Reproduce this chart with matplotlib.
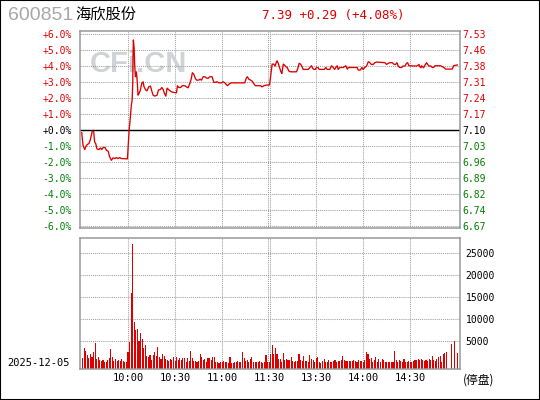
import matplotlib
matplotlib.use("Agg")
import matplotlib.pyplot as plt
import numpy as np
from matplotlib.patches import Rectangle

# ---- values ----
stock_code = "600851"
stock_name = "海欣股份"
quote_text = "7.39 +0.29 (+4.08%)"
trade_date = "2025-12-05"
status_text = "(停盘)"

# intraday line: minutes since 9:30 (lunch break removed) and % change vs previous close
line_minutes = [
    0.45, 1.3, 2.4, 3.0, 3.9, 5.1, 6.0, 6.8, 7.2, 8.1, 8.7, 9.4, 10.2, 11.3, 12.4, 13.2,
    14.1, 15.3, 16.2, 17.3, 18.3, 19.4, 20.4, 21.7, 22.6, 23.6, 24.7, 25.8, 28.9, 29.6,
    30.2, 30.7, 31.1, 31.5, 32.1, 32.6, 33.0, 33.2, 33.4, 33.9, 34.3, 34.7, 35.3, 35.8,
    36.4, 37.0, 37.9, 38.7, 39.6, 40.2, 41.3, 42.1, 43.2, 44.3, 45.1, 46.0, 47.0, 48.5,
    49.4, 50.7, 51.5, 52.4, 53.2, 54.1, 54.9, 56.2, 57.7, 59.2,
    60.9, 61.5, 62.3, 63.6, 64.5, 66.2, 67.2, 68.3, 69.4, 70.4, 71.0, 71.9, 72.9, 73.7,
    75.1, 75.9, 76.8, 77.9, 78.9, 80.0, 81.1, 82.1, 83.6, 84.7, 85.7, 86.8, 87.9, 89.6,
    90.6, 91.7, 92.7, 93.4, 94.9, 95.9, 104.4, 105.5, 106.1, 107.0, 108.2, 109.1, 110.1,
    111.2, 114.6, 115.4, 116.7, 118.2, 120.0,
    120.4, 121.3, 121.9, 122.9, 123.8, 124.7, 125.1, 126.0, 126.8, 127.5, 128.1, 128.5,
    129.0, 129.8, 130.6, 131.5, 132.5, 133.6, 137.4, 138.3, 139.1, 140.0, 140.8, 141.7,
    144.9, 146.0, 147.0, 147.7, 148.5, 149.4, 150.2, 151.1, 151.9, 155.1, 156.2, 157.0,
    158.7, 159.8, 160.8, 161.7, 162.5, 163.4, 164.0, 165.1, 167.2, 168.9, 169.8, 170.6,
    176.1, 176.8, 178.2, 179.1, 179.9, 181.0,
    182.1, 183.2, 184.2, 185.2, 186.3, 187.4, 188.5, 193.8, 194.9, 195.9, 197.0, 198.5,
    199.8, 200.6, 201.5, 202.3, 203.2, 204.5, 205.3, 206.6, 207.6, 208.3, 209.1, 214.2,
    215.5, 216.1, 216.8, 217.2, 217.9, 218.5, 219.4, 220.4, 221.1, 221.9, 223.2, 224.0,
    224.9, 225.7, 229.1, 230.4, 231.7, 232.5, 236.8, 237.6, 240.0,
]
line_pct = [
    -0.15, -0.94, -1.21, -1.04, -0.90, -0.83, -0.58, -0.21, -0.04, -0.10, -0.73, -0.84,
    -1.17, -1.21, -1.11, -1.21, -1.08, -1.08, -1.25, -1.31, -1.67, -1.88, -1.73, -1.77,
    -1.71, -1.77, -1.71, -1.77, -1.79, -1.79, -0.84, 0.00, 0.42, 0.84, 1.57, 1.88, 2.92,
    4.80, 5.64, 5.10, 3.97, 3.34, 3.65, 3.13, 2.19, 2.30, 2.51, 2.92, 3.03, 2.71, 2.51,
    2.46, 2.71, 2.76, 2.46, 2.19, 2.13, 2.19, 2.51, 2.55, 2.67, 2.55, 2.30, 2.13, 2.63,
    2.51, 2.40, 2.36,
    2.34, 2.78, 2.67, 2.67, 2.78, 2.78, 2.71, 2.65, 2.92, 3.24, 3.59, 3.51, 3.24, 3.13,
    3.13, 3.19, 3.13, 3.34, 3.34, 3.26, 3.24, 3.34, 3.34, 2.99, 2.99, 3.03, 2.96, 2.96,
    3.03, 2.96, 2.86, 2.78, 2.92, 2.96, 2.96, 3.28, 3.34, 3.19, 3.13, 3.07, 2.92,
    2.78, 2.78, 2.71, 2.78, 2.82, 2.82,
    2.96, 3.65, 4.13, 4.13, 4.01, 4.28, 4.34, 4.11, 3.86, 3.65, 3.55, 3.80,
    4.13, 4.07, 3.97, 3.92, 3.70, 3.65, 3.65, 3.86, 4.18, 4.13, 4.01, 3.80,
    3.80, 3.92, 4.03, 3.88, 3.80, 3.80, 3.92, 3.92, 3.80, 3.80, 3.92, 3.80,
    3.80, 4.03, 3.92, 3.80, 3.92, 4.03, 3.80, 3.92, 3.92, 4.03, 3.82, 3.92,
    3.92, 3.76, 3.76, 3.92, 3.80, 3.92,
    4.01, 4.28, 4.22, 4.11, 4.11, 4.22, 4.26, 4.22, 4.11, 4.18, 4.22, 4.22,
    4.11, 4.11, 4.22, 4.01, 3.92, 3.92, 4.01, 4.01, 4.18, 4.22, 4.03, 4.01,
    4.11, 3.97, 3.90, 4.03, 3.97, 3.90, 4.07, 4.22, 4.11, 4.01, 4.01, 3.92,
    3.92, 4.03, 4.03, 3.97, 3.90, 3.82, 3.82, 4.03, 4.08,
]

# volume per minute (lots), morning then afternoon session
volume_am = [
    1210, 3490, 2800, 1900, 1210, 2120, 1440, 2580, 4620, 990, 1440, 760, 530, 760, 300,
    300, 760, 1210, 3260, 1440, 530, 990, 530, 760, 530, 990, 530, 300, 300, 2580,
    4850, 15980, 27100, 9400, 7580, 7730, 5080, 6820, 5530, 3490, 4170, 1670, 1440, 1900,
    760, 1900, 2580, 1670, 3710, 1440, 990, 2120, 1670, 990, 760, 530, 990, 760, 1440, 530,
    1440, 760, 1210, 760, 1210, 1210, 300, 1210, 530, 2800, 1210, 530, 530, 300, 530,
    2120, 1440, 760, 990, 300, 1210, 1210, 760, 1440, 1440, 300, 300, 80, 300, 300,
    530, 300, 300, 80, 1440, 80, 80, 300, 300, 530, 300, 300, 2580, 1210, 530,
    760, 300, 990, 1440, 300, 300, 300, 300, 530, 300, 80, 300, 1900, 300, 300,
]
volume_pm = [
    2110, 4160, 2110, 3400, 2110, 1050, 980, 300, 2340, 750, 1050, 750, 750, 1430, 520,
    300, 520, 520, 2110, 750, 520, 1660, 520, 520, 300, 1890, 980, 750, 300, 1210,
    1430, 300, 140, 520, 980, 300, 300, 750, 300, 300, 520, 750, 300, 520, 520,
    750, 1660, 750, 520, 520, 520, 520, 520, 750, 520, 300, 750, 520, 520, 300,
    750, 2570, 2110, 980, 1210, 300, 750, 1430, 300, 980, 300, 980, 750, 300, 300,
    300, 300, 300, 300, 2800, 750, 300, 750, 520, 300, 980, 300, 300, 520, 300,
    300, 520, 750, 750, 980, 750, 980, 750, 520, 750, 520, 980, 750, 1660, 750,
    520, 980, 1430, 1660, 300, 2110, 2340, 2570, 0, 0, 4390, 0, 5070, 0, 2340,
]

pct_ticks = [6, 5, 4, 3, 2, 1, 0, -1, -2, -3, -4, -5, -6]
price_labels = ["7.53", "7.46", "7.38", "7.31", "7.24", "7.17", "7.10",
                "7.03", "6.96", "6.89", "6.82", "6.74", "6.67"]
vol_ticks = [5000, 10000, 15000, 20000, 25000]
time_ticks = [30, 60, 90, 120, 150, 180, 210]
time_labels = ["10:00", "10:30", "11:00", "11:30", "13:30", "14:00", "14:30"]
grid_minutes = [30, 60, 90, 119.4, 120.6, 150, 180, 210]

UP = "#dd0000"
DOWN = "#008000"
GRID = "#a0a0a0"
FRAME = "#999999"
MONO = "DejaVu Sans Mono"
CJK = ["Noto Sans CJK SC", "DejaVu Sans"]


def label_color(v):
    if v > 0:
        return UP
    if v < 0:
        return DOWN
    return "black"


def style_panel(ax):
    for s in ax.spines.values():
        s.set_color(FRAME)
        s.set_linewidth(1.1)
    ax.tick_params(length=0)
    for m in grid_minutes:
        ax.axvline(m, color=GRID, lw=0.75, ls=(0, (1, 1)), zorder=0)


fig = plt.figure(figsize=(5.4, 4.0), dpi=100)
W, H = 540, 400
xlim = (-0.64, 241.7)

# ---- price panel ----
ax = fig.add_axes([80 / W, 1 - 228 / H, 380 / W, 197 / H])
ax.set_xlim(*xlim)
ax.set_ylim(-6.11, 6.2)
style_panel(ax)
ax.set_xticks([])
ax.set_yticks(pct_ticks)
ax.set_yticklabels([f"{p:+.1f}%" for p in pct_ticks], family=MONO, fontsize=7)
for lab, p in zip(ax.get_yticklabels(), pct_ticks):
    lab.set_color(label_color(p))
ax.tick_params(axis="y", pad=6)
ax.yaxis.grid(True, color=GRID, lw=0.75, ls=(0, (1, 1)))
ax.axhline(0, color="black", lw=1.0, zorder=2)
ax.text(0.155, 0.83, "CFi.CN", transform=ax.transAxes, ha="center", va="center",
        family="Liberation Sans", weight="bold", fontsize=21, color="#cfd2d6", zorder=1)
ax.plot(line_minutes, line_pct, color=UP, lw=0.95, zorder=3)

axr = ax.twinx()
axr.set_ylim(ax.get_ylim())
axr.set_yticks(pct_ticks)
axr.set_yticklabels(price_labels, family=MONO, fontsize=7)
for lab, p in zip(axr.get_yticklabels(), pct_ticks):
    lab.set_color(label_color(p))
axr.tick_params(length=0, pad=2)
for s in axr.spines.values():
    s.set_visible(False)

# ---- volume panel ----
vol = np.array(volume_am + volume_pm, dtype=float)
bar_x = np.arange(1, len(vol) + 1)
axv = fig.add_axes([80 / W, 1 - 369.3 / H, 380 / W, 131 / H])
axv.set_xlim(*xlim)
floor = -1364
axv.set_ylim(floor, 28409)
style_panel(axv)
axv.yaxis.tick_right()
axv.set_yticks(vol_ticks)
axv.set_yticklabels([str(v) for v in vol_ticks], family=MONO, fontsize=7)
axv.tick_params(axis="y", pad=4)
axv.yaxis.grid(True, color=GRID, lw=0.75, ls=(0, (1, 1)))
axv.set_xticks(time_ticks)
axv.set_xticklabels(time_labels, family=MONO, fontsize=7.5)
axv.tick_params(axis="x", pad=3)
mask = vol > 0
axv.bar(bar_x[mask], vol[mask] - floor, bottom=floor, width=0.7, color=UP, lw=0, zorder=2)

# ---- header and side texts ----
fig.text(8 / W, 1 - 16 / H, stock_code, ha="left", va="center", family="Liberation Sans",
         fontsize=14, color="#a8a8a8")
fig.text(75 / W, 1 - 15 / H, stock_name, ha="left", va="center", family=CJK, fontsize=11)
fig.text(262 / W, 1 - 15 / H, quote_text, ha="left", va="center", family=MONO,
         fontsize=9, color=UP)
fig.text(7 / W, 1 - 363 / H, trade_date, ha="left", va="center", family=MONO, fontsize=7.5)
fig.text(463 / W, 1 - 380 / H, status_text, ha="left", va="center", family=CJK, fontsize=8.5)

fig.add_artist(Rectangle((0, 0), 1, 1, transform=fig.transFigure, fill=False,
                         edgecolor="black", lw=1.5))

fig.savefig("out.png", dpi=100)
